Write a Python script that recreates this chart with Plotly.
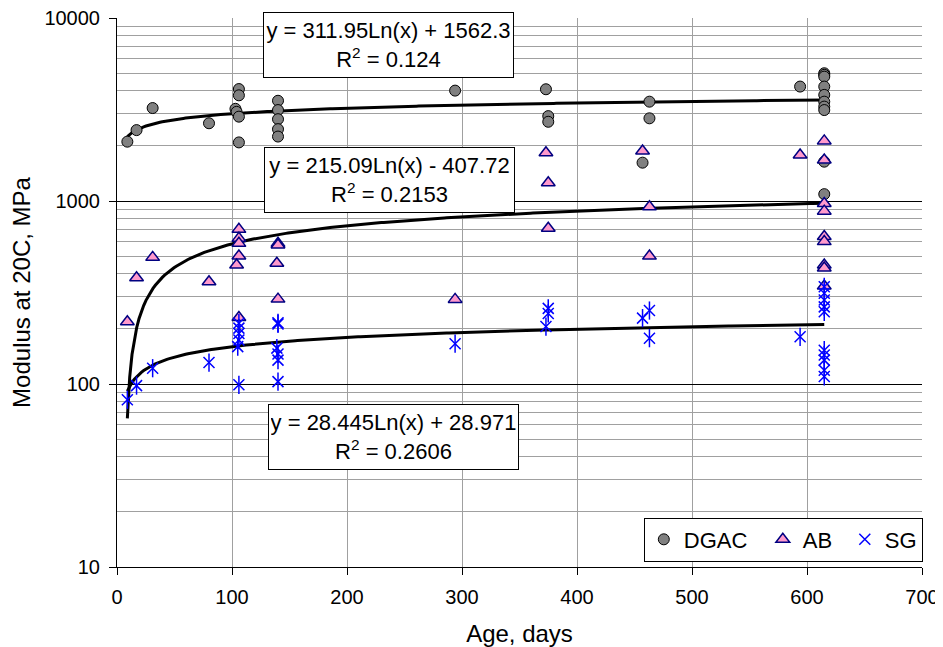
import numpy as np
import plotly.graph_objects as go

# ---------------- data ----------------
dgac_age = [9, 17, 31, 80, 106, 106, 103, 104, 106, 106, 140, 140, 140, 140, 140,
            294, 373, 375, 375, 463, 463, 457, 594,
            615, 615, 615, 615, 615, 615, 615, 615, 615, 615]
dgac_mod = [2110, 2440, 3220, 2660, 4090, 3780, 3190, 3070, 2890, 2090, 3530, 3140, 2800, 2470, 2250,
            4010, 4080, 2910, 2710, 3490, 2830, 1620, 4220,
            4990, 4890, 4780, 4220, 3800, 3490, 3280, 3140, 1640, 1090]

ab_age = [9, 17, 31, 80, 106, 106, 106, 106, 104, 106, 140, 140, 139, 140,
          294, 373, 375, 375, 457, 463, 463, 594,
          615, 615, 615, 615, 615, 615, 615, 615, 615]
ab_mod = [219, 381, 492, 362, 700, 625, 587, 501, 447, 231, 587, 575, 457, 291,
          290, 1836, 1259, 710, 1875, 931, 500, 1782,
          2130, 1675, 970, 880, 640, 600, 447, 430, 343]

sg_age = [9, 17, 31, 80, 106, 106, 106, 106, 105, 106, 140, 140, 139, 140, 140, 140,
          294, 375, 375, 373, 463, 457, 463, 594,
          615, 615, 615, 615, 615, 615, 615, 615, 615, 615]
sg_mod = [82, 98, 122, 131, 215, 202, 189, 174, 160, 99, 216, 213, 157, 146, 135, 103,
          166, 259, 243, 206, 252, 229, 178, 181,
          340, 313, 288, 264, 248, 153, 144, 135, 119, 110]

# logarithmic trendline coefficients (y = a*Ln(x) + b) and R^2 from the chart
dgac_fit = (311.95, 1562.3, 0.124)
ab_fit = (215.09, -407.72, 0.2153)
sg_fit = (28.445, 28.971, 0.2606)

x_ticks = [0, 100, 200, 300, 400, 500, 600, 700]
y_ticks = [10, 100, 1000, 10000]
y_ticktext = ["10", "100", "1000", "10000"]

FONT = "Arial, 'Liberation Sans', sans-serif"


def trend(ages, fit):
    xs = np.linspace(min(ages), max(ages), 300)
    return xs, fit[0] * np.log(xs) + fit[1]


fig = go.Figure()

# trendlines
for ages, fit in [(dgac_age, dgac_fit), (ab_age, ab_fit), (sg_age, sg_fit)]:
    tx, ty = trend(ages, fit)
    fig.add_trace(go.Scatter(x=tx, y=ty, mode="lines", line=dict(color="black", width=3),
                             showlegend=False, hoverinfo="skip"))

fig.add_trace(go.Scatter(x=dgac_age, y=dgac_mod, mode="markers", name="DGAC", legendwidth=74,
                         marker=dict(symbol="circle", size=11, color="#808080",
                                     line=dict(color="black", width=1))))
fig.add_trace(go.Scatter(x=ab_age, y=ab_mod, mode="markers", name="AB", legendwidth=37,
                         marker=dict(symbol="triangle-up", size=12, color="#FF99CC",
                                     line=dict(color="#000080", width=1.5))))
fig.add_trace(go.Scatter(x=sg_age, y=sg_mod, mode="markers", name="SG", legendgroup="sg",
                         marker=dict(symbol="x-thin-open", size=11, color="#0000FF",
                                     line=dict(color="#0000FF", width=1.5))))
fig.add_trace(go.Scatter(x=sg_age, y=sg_mod, mode="markers", name="SG", legendgroup="sg",
                         showlegend=False,
                         marker=dict(symbol="line-ns-open", size=13, color="#0000FF",
                                     line=dict(color="#0000FF", width=1.5))))


def eq_text(fit):
    a, b, r2 = fit
    sign = "+" if b >= 0 else "-"
    return f"y = {a:g}Ln(x) {sign} {abs(b):g}<br>R<sup>2</sup> = {r2:g}"


for fit, px, py in [(dgac_fit, 0.3373, 0.9508), (ab_fit, 0.3385, 0.7058), (sg_fit, 0.3429, 0.2377)]:
    fig.add_annotation(text=eq_text(fit), xref="paper", yref="paper", x=px, y=py,
                       xanchor="center", yanchor="middle", showarrow=False, align="center",
                       valign="middle", width=245, height=60,
                       font=dict(family=FONT, size=22, color="black"),
                       bgcolor="white", bordercolor="black", borderwidth=1, borderpad=2)

# The page body adds an 8 px offset, so the figure is 8 px smaller with margins adjusted
fig.update_layout(
    width=935, height=639,
    margin=dict(l=109, r=21, t=10, b=80, autoexpand=False),
    paper_bgcolor="white", plot_bgcolor="white",
    font=dict(family=FONT, size=20, color="black"),
    legend=dict(orientation="h", x=1.001, y=0.01, xanchor="right", yanchor="bottom",
                bgcolor="white", bordercolor="black", borderwidth=1,
                font=dict(family=FONT, size=22, color="black")),
    xaxis=dict(range=[0, 700], tickvals=x_ticks, ticks="outside", ticklen=7,
               tickcolor="black", showline=True, linecolor="black", linewidth=1,
               showgrid=True, gridcolor="#A0A0A0", gridwidth=1, zeroline=False,
               automargin=False, ticklabelstandoff=5, ticklabeloverflow="allow",
               title=dict(text="Age, days", standoff=22), tickfont=dict(size=20)),
    yaxis=dict(type="log", range=[1, 4], tickvals=y_ticks, ticktext=y_ticktext,
               ticks="outside", ticklen=7, tickcolor="black", showline=True,
               linecolor="black", linewidth=1, showgrid=True, gridcolor="black",
               gridwidth=1, zeroline=False, automargin=False, ticklabelstandoff=5,
               ticklabeloverflow="allow",
               minor=dict(dtick="D1", showgrid=True, gridcolor="#A0A0A0", ticks=""),
               title=dict(text="Modulus at 20C, MPa", standoff=19), tickfont=dict(size=20)),
)

fig.write_html("out.html")
